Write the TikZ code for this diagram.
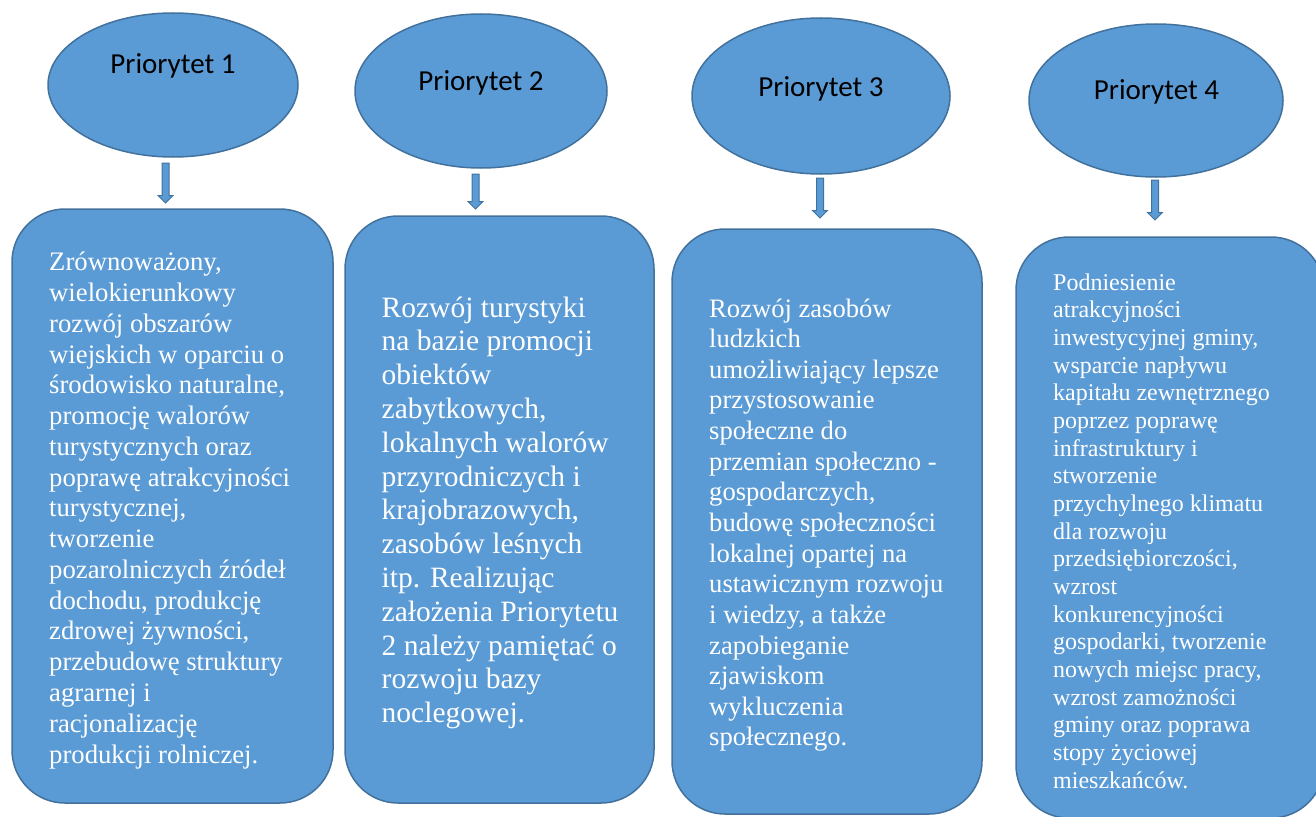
\documentclass[tikz,border=0pt]{standalone}
\usepackage{fontspec}
\setmainfont{Liberation Serif}
\newfontfamily\calib{Carlito}
\usetikzlibrary{shapes.geometric,calc}
\definecolor{shapefill}{HTML}{5B9BD5}
\definecolor{shapeline}{HTML}{41719C}
\tikzset{
  prio/.style={ellipse, draw=shapeline, fill=shapefill, line width=1.5pt, inner sep=0pt},
  priotext/.style={anchor=base, inner sep=0pt, font=\calib\fontsize{29}{34}\selectfont, text=black},
  descbox/.style={rectangle, draw=shapeline, fill=shapefill, line width=1.5pt, rounded corners=53pt, inner sep=0pt},
  desctext/.style={anchor=base west, inner sep=0pt, text=white},
  blockarrow/.style={draw=shapeline, fill=shapefill, line width=1pt, line join=miter}
}
\newcommand{\blockarr}[2]{%
  \draw[blockarrow] ($(#1)+(-3.5,0)$) -- ($(#2)+(-3.5,-7.5)$) -- ($(#2)+(-7.5,-7.5)$) -- (#2)
    -- ($(#2)+(7.5,-7.5)$) -- ($(#2)+(3.5,-7.5)$) -- ($(#1)+(3.5,0)$) -- cycle;}
\begin{document}
\begin{tikzpicture}[x=1pt,y=-1pt]
\useasboundingbox (0,0) rectangle (1316,816);
\clip (0,0) rectangle (1316,816);
% ellipses
\node[prio, minimum width=250pt, minimum height=144pt] (e1) at (173,85) {};
\node[prio, minimum width=252pt, minimum height=154pt] (e2) at (481,91) {};
\node[prio, minimum width=258pt, minimum height=156pt] (e3) at (821,96) {};
\node[prio, minimum width=254pt, minimum height=153pt] (e4) at (1156,100.5) {};
\node[priotext] (t1) at (173,74) {Priorytet 1};
\node[priotext] (t2) at (481,90) {Priorytet 2};
\node[priotext] (t3) at (821,96) {Priorytet 3};
\node[priotext] (t4) at (1156.5,99) {Priorytet 4};
% boxes
\node[descbox, minimum width=321pt, minimum height=594pt] (b1) at (172.5,506) {};
\node[descbox, minimum width=309pt, minimum height=587pt] (b2) at (499.5,509.5) {};
\node[descbox, minimum width=310pt, minimum height=585pt] (b3) at (827,521.5) {};
\node[descbox, minimum width=308pt, minimum height=581pt] (b4) at (1170,527.5) {};
% arrows
\coordinate (a1t) at (165.5,163); \coordinate (a1h) at (165.5,203);
\coordinate (a2t) at (475.5,174); \coordinate (a2h) at (475.5,209);
\coordinate (a3t) at (820,178);   \coordinate (a3h) at (820,218);
\coordinate (a4t) at (1155,180);  \coordinate (a4h) at (1155,220);
\blockarr{a1t}{a1h}
\blockarr{a2t}{a2h}
\blockarr{a3t}{a3h}
\blockarr{a4t}{a4h}
% texts
\node[desctext, font=\fontsize{26.7}{30.77}\selectfont] (d1) at (49,270.7) {\parbox[t]{300pt}{\raggedright
Zrównoważony,\\
wielokierunkowy\\
rozwój obszarów\\
wiejskich w oparciu o\\
środowisko naturalne,\\
promocję walorów\\
turystycznych oraz\\
poprawę atrakcyjności\\
turystycznej,\\
tworzenie\\
pozarolniczych źródeł\\
dochodu, produkcję\\
zdrowej żywności,\\
przebudowę struktury\\
agrarnej i\\
racjonalizację\\
produkcji rolniczej.}};
\node[desctext, font=\fontsize{29.5}{33.81}\selectfont] (d2) at (381.5,317) {\parbox[t]{300pt}{\raggedright
Rozwój turystyki\\
na bazie promocji\\
obiektów\\
zabytkowych,\\
lokalnych walorów\\
przyrodniczych i\\
krajobrazowych,\\
zasobów leśnych\\
itp. Realizując\\
założenia Priorytetu\\
2 należy pamiętać o\\
rozwoju bazy\\
noclegowej.}};
\node[desctext, font=\fontsize{26.6}{30.64}\selectfont] (d3) at (709,317) {\parbox[t]{300pt}{\raggedright
Rozwój zasobów\\
ludzkich\\
umożliwiający lepsze\\
przystosowanie\\
społeczne do\\
przemian społeczno -\\
gospodarczych,\\
budowę społeczności\\
lokalnej opartej na\\
ustawicznym rozwoju\\
i wiedzy, a także\\
zapobieganie\\
zjawiskom\\
wykluczenia\\
społecznego.}};
\node[desctext, font=\fontsize{24}{27.67}\selectfont] (d4) at (1053,290) {\parbox[t]{300pt}{\raggedright
Podniesienie\\
atrakcyjności\\
inwestycyjnej gminy,\\
wsparcie napływu\\
kapitału zewnętrznego\\
poprzez poprawę\\
infrastruktury i\\
stworzenie\\
przychylnego klimatu\\
dla rozwoju\\
przedsiębiorczości,\\
wzrost\\
konkurencyjności\\
gospodarki, tworzenie\\
nowych miejsc pracy,\\
wzrost zamożności\\
gminy oraz poprawa\\
stopy życiowej\\
mieszkańców.}};
\end{tikzpicture}
\end{document}
